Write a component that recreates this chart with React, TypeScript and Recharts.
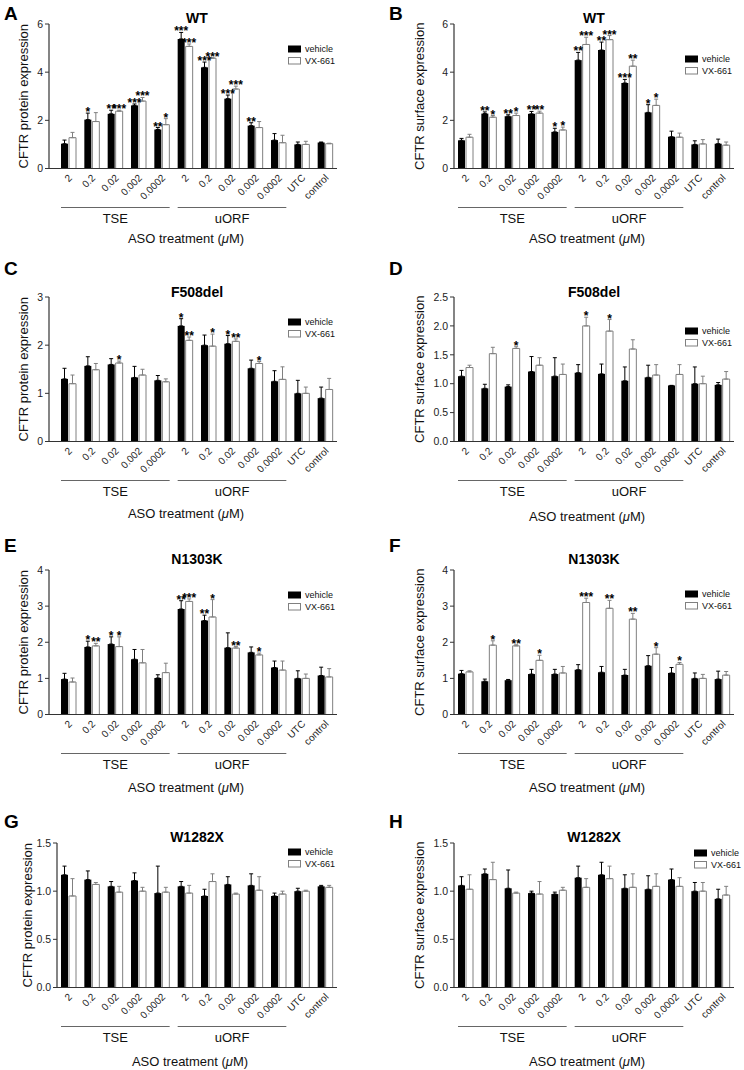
import React from 'react';
import { BarChart, Bar, XAxis, YAxis, ErrorBar, LabelList } from 'recharts';

const FONT = '"Liberation Sans", Arial, Helvetica, sans-serif';
const AXIS = '#333';
const GROUP_LINE = '#666';
const VX_STROKE = '#808080';

const DOSES = ['2', '0.2', '0.02', '0.002', '0.0002', '2', '0.2', '0.02', '0.002', '0.0002', 'UTC', 'control'];
const GROUPS = [
  { label: 'TSE', from: 0, to: 4 },
  { label: 'uORF', from: 5, to: 9 },
];
const NONE = ['', '', '', '', '', '', '', '', '', '', '', ''];

// A - WT protein
const A_VEH = [1.03, 2.03, 2.27, 2.62, 1.62, 5.38, 4.2, 2.9, 1.78, 1.18, 1.0, 1.08];
const A_VEH_ERR = [0.15, 0.27, 0.15, 0.06, 0.08, 0.27, 0.22, 0.15, 0.12, 0.27, 0.1, 0.02];
const A_VX = [1.28, 1.95, 2.38, 2.8, 1.82, 5.07, 4.58, 3.3, 1.7, 1.07, 1.0, 1.03];
const A_VX_ERR = [0.22, 0.37, 0.04, 0.15, 0.25, 0.1, 0.02, 0.12, 0.25, 0.31, 0.13, 0.02];
const A_VEH_SIG = ['', '*', '**', '***', '**', '***', '***', '***', '**', '', '', ''];
const A_VX_SIG = ['', '', '***', '***', '*', '***', '***', '***', '', '', '', ''];

// B - WT surface
const B_VEH = [1.17, 2.28, 2.17, 2.27, 1.52, 4.5, 4.92, 3.55, 2.33, 1.32, 1.0, 1.03];
const B_VEH_ERR = [0.08, 0.07, 0.06, 0.1, 0.15, 0.32, 0.33, 0.15, 0.32, 0.23, 0.15, 0.19];
const B_VX = [1.3, 2.13, 2.2, 2.3, 1.6, 5.15, 5.35, 4.25, 2.62, 1.3, 1.02, 0.97];
const B_VX_ERR = [0.12, 0.07, 0.1, 0.08, 0.12, 0.3, 0.17, 0.25, 0.26, 0.17, 0.18, 0.13];
const B_VEH_SIG = ['', '**', '**', '**', '*', '**', '**', '***', '*', '', '', ''];
const B_VX_SIG = ['', '*', '*', '**', '*', '***', '***', '**', '*', '', '', ''];

// C - F508del protein
const C_VEH = [1.3, 1.57, 1.6, 1.33, 1.27, 2.4, 2.0, 2.03, 1.52, 1.25, 1.0, 0.9];
const C_VEH_ERR = [0.22, 0.19, 0.12, 0.23, 0.1, 0.15, 0.21, 0.17, 0.17, 0.22, 0.27, 0.23];
const C_VX = [1.2, 1.49, 1.63, 1.38, 1.24, 2.1, 1.98, 2.08, 1.62, 1.29, 1.0, 1.08];
const C_VX_ERR = [0.18, 0.13, 0.04, 0.12, 0.06, 0.07, 0.25, 0.05, 0.04, 0.26, 0.13, 0.23];
const C_VEH_SIG = ['', '', '', '', '', '*', '', '*', '', '', '', ''];
const C_VX_SIG = ['', '', '*', '', '', '**', '*', '**', '*', '', '', ''];

// D - F508del surface
const D_VEH = [1.13, 0.92, 0.95, 1.21, 1.13, 1.19, 1.17, 1.05, 1.11, 0.97, 1.0, 0.98];
const D_VEH_ERR = [0.1, 0.07, 0.03, 0.26, 0.32, 0.14, 0.17, 0.24, 0.21, 0.0, 0.29, 0.04];
const D_VX = [1.28, 1.52, 1.61, 1.32, 1.16, 2.0, 1.91, 1.6, 1.15, 1.16, 1.0, 1.08];
const D_VX_ERR = [0.04, 0.11, 0.03, 0.13, 0.18, 0.15, 0.2, 0.16, 0.18, 0.17, 0.13, 0.13];
const D_VX_SIG = ['', '', '*', '', '', '*', '*', '', '', '', '', ''];

// E - N1303K protein
const E_VEH = [0.98, 1.87, 1.95, 1.53, 1.01, 2.92, 2.6, 1.85, 1.72, 1.3, 1.0, 1.08];
const E_VEH_ERR = [0.16, 0.16, 0.2, 0.27, 0.09, 0.23, 0.15, 0.41, 0.15, 0.18, 0.21, 0.23];
const E_VX = [0.9, 1.9, 1.88, 1.43, 1.16, 3.13, 2.7, 1.84, 1.65, 1.23, 1.0, 1.04];
const E_VX_ERR = [0.11, 0.07, 0.27, 0.37, 0.26, 0.07, 0.48, 0.04, 0.05, 0.25, 0.12, 0.23];
const E_VEH_SIG = ['', '*', '*', '', '', '**', '**', '', '', '', '', ''];
const E_VX_SIG = ['', '**', '*', '', '', '***', '*', '**', '*', '', '', ''];

// F - N1303K surface
const F_VEH = [1.13, 0.92, 0.95, 1.12, 1.12, 1.24, 1.17, 1.09, 1.35, 1.15, 1.0, 0.98];
const F_VEH_ERR = [0.09, 0.06, 0.02, 0.13, 0.13, 0.14, 0.16, 0.16, 0.28, 0.15, 0.15, 0.22];
const F_VX = [1.18, 1.92, 1.9, 1.5, 1.15, 3.1, 2.94, 2.64, 1.67, 1.39, 1.0, 1.09];
const F_VX_ERR = [0.03, 0.12, 0.03, 0.14, 0.18, 0.12, 0.22, 0.16, 0.18, 0.05, 0.11, 0.1];
const F_VX_SIG = ['', '*', '**', '*', '', '***', '**', '**', '*', '*', '', ''];

// G - W1282X protein
const G_VEH = [1.17, 1.12, 1.05, 1.11, 0.98, 1.05, 0.95, 1.07, 1.06, 0.95, 1.0, 1.05];
const G_VEH_ERR = [0.09, 0.09, 0.05, 0.08, 0.28, 0.05, 0.07, 0.08, 0.12, 0.03, 0.03, 0.01];
const G_VX = [0.95, 1.07, 0.99, 1.0, 0.99, 0.98, 1.1, 0.97, 1.01, 0.97, 1.0, 1.04];
const G_VX_ERR = [0.18, 0.02, 0.06, 0.04, 0.05, 0.08, 0.08, 0.01, 0.14, 0.03, 0.01, 0.02];

// H - W1282X surface
const H_VEH = [1.06, 1.18, 1.03, 0.98, 0.97, 1.14, 1.17, 1.03, 1.02, 1.12, 1.0, 0.92];
const H_VEH_ERR = [0.09, 0.05, 0.19, 0.02, 0.02, 0.12, 0.13, 0.14, 0.14, 0.11, 0.09, 0.1];
const H_VX = [1.02, 1.12, 0.98, 0.97, 1.01, 1.04, 1.13, 1.04, 1.05, 1.05, 1.0, 0.96];
const H_VX_ERR = [0.15, 0.18, 0.01, 0.13, 0.03, 0.09, 0.13, 0.14, 0.13, 0.09, 0.09, 0.09];

const TICKS_6 = [0, 2, 4, 6];
const TICKS_3 = [0, 1, 2, 3];
const TICKS_4 = [0, 1, 2, 3, 4];
const TICKS_25 = [0, 0.5, 1, 1.5, 2, 2.5];
const TICKS_15 = [0, 0.5, 1, 1.5];

const PROT = 'CFTR protein expression';
const SURF = 'CFTR surface expression';

const CH = 256;
const TOP = 24;
const PLOT_H = 144.5;

const int = (v: number) => String(v);
const dec = (v: number) => v.toFixed(1);

const PANELS = [
  { letter: 'A', title: 'WT', yLabel: PROT, veh: A_VEH, vehErr: A_VEH_ERR, vx: A_VX, vxErr: A_VX_ERR, vehSig: A_VEH_SIG, vxSig: A_VX_SIG, yMax: 6, ticks: TICKS_6, fmt: int,
    left: 0, top: 0, yw: 49, padL: 8, mr: 35, labelX: 23, titleY: 23, lx: 288, ly: 45.5, asoDy: 74, letterY: 20 },
  { letter: 'B', title: 'WT', yLabel: SURF, veh: B_VEH, vehErr: B_VEH_ERR, vx: B_VX, vxErr: B_VX_ERR, vehSig: B_VEH_SIG, vxSig: B_VX_SIG, yMax: 6, ticks: TICKS_6, fmt: int,
    left: 372, top: 0, yw: 82, padL: 0, mr: 10, labelX: 47, titleY: 23, lx: 313, ly: 55.5, asoDy: 74, letterY: 20 },
  { letter: 'C', title: 'F508del', yLabel: PROT, veh: C_VEH, vehErr: C_VEH_ERR, vx: C_VX, vxErr: C_VX_ERR, vehSig: C_VEH_SIG, vxSig: C_VX_SIG, yMax: 3, ticks: TICKS_3, fmt: int,
    left: 0, top: 273, yw: 49, padL: 8, mr: 35, labelX: 23, titleY: 24, lx: 288, ly: 45.5, asoDy: 76, letterY: 2 },
  { letter: 'D', title: 'F508del', yLabel: SURF, veh: D_VEH, vehErr: D_VEH_ERR, vx: D_VX, vxErr: D_VX_ERR, vehSig: NONE, vxSig: D_VX_SIG, yMax: 2.5, ticks: TICKS_25, fmt: dec,
    left: 372, top: 273, yw: 82, padL: 0, mr: 10, labelX: 47, titleY: 24, lx: 313, ly: 54.5, asoDy: 79, letterY: 2 },
  { letter: 'E', title: 'N1303K', yLabel: PROT, veh: E_VEH, vehErr: E_VEH_ERR, vx: E_VX, vxErr: E_VX_ERR, vehSig: E_VEH_SIG, vxSig: E_VX_SIG, yMax: 4, ticks: TICKS_4, fmt: int,
    left: 0, top: 546, yw: 49, padL: 8, mr: 35, labelX: 23, titleY: 18, lx: 288, ly: 45.5, asoDy: 77, letterY: 6 },
  { letter: 'F', title: 'N1303K', yLabel: SURF, veh: F_VEH, vehErr: F_VEH_ERR, vx: F_VX, vxErr: F_VX_ERR, vehSig: NONE, vxSig: F_VX_SIG, yMax: 4, ticks: TICKS_4, fmt: int,
    left: 372, top: 546, yw: 82, padL: 0, mr: 10, labelX: 47, titleY: 18, lx: 313, ly: 44.5, asoDy: 77, letterY: 6 },
  { letter: 'G', title: 'W1282X', yLabel: PROT, veh: G_VEH, vehErr: G_VEH_ERR, vx: G_VX, vxErr: G_VX_ERR, vehSig: NONE, vxSig: NONE, yMax: 1.5, ticks: TICKS_15, fmt: dec,
    left: 0, top: 819, yw: 57, padL: 0, mr: 35, labelX: 27, titleY: 23, lx: 288, ly: 29.5, asoDy: 78, letterY: 9 },
  { letter: 'H', title: 'W1282X', yLabel: SURF, veh: H_VEH, vehErr: H_VEH_ERR, vx: H_VX, vxErr: H_VX_ERR, vehSig: NONE, vxSig: NONE, yMax: 1.5, ticks: TICKS_15, fmt: dec,
    left: 372, top: 819, yw: 82, padL: 0, mr: 10, labelX: 47, titleY: 23, lx: 322, ly: 30.5, asoDy: 78, letterY: 9 },
];

const renderDoseTick = (props: any) => {
  const { x, y, payload } = props;
  const idx = payload?.index ?? props.index;
  const half = payload?.offset || 11.67;
  const g = GROUPS.find((gr) => (gr.from + gr.to) / 2 === idx);
  const span = g ? (g.to - g.from + 1) * half - 4 : 0;
  const tx = x + 4;
  const ty = y + 10;
  return (
    <g key={`t${idx}`}>
      <text x={tx} y={ty} textAnchor="end" fontSize={10} fontFamily={FONT} fill="#222" transform={`rotate(-45, ${tx}, ${ty})`}>
        {DOSES[idx]}
      </text>
      {g && (
        <>
          <line x1={x - span} x2={x + span} y1={y + 39} y2={y + 39} stroke={GROUP_LINE} strokeWidth={1} />
          <text x={x} y={y + 54} textAnchor="middle" fontSize={13} fontFamily={FONT} fill="#111">
            {g.label}
          </text>
        </>
      )}
    </g>
  );
};

const asoLabel = (dy: number) => (props: any) => {
  const vb = props.viewBox;
  return (
    <text x={vb.x + vb.width / 2 - 7} y={vb.y + dy} textAnchor="middle" fontSize={13} fontFamily={FONT} fill="#111">
      ASO treatment (<tspan fontStyle="italic">μ</tspan>M)
    </text>
  );
};

const yLabel = (text: string, lx: number) => (props: any) => {
  const vb = props.viewBox;
  const cy = vb.y + vb.height / 2;
  return (
    <g transform={`translate(${lx}, ${cy}) rotate(-90)`}>
      <text x={0} y={0} textAnchor="middle" dominantBaseline="central" fontSize={13} fontFamily={FONT} fill="#111">
        {text}
      </text>
    </g>
  );
};

const starLabel = (rows: any[], key: string, errKey: string) => (props: any) => {
  const { index, value } = props;
  if (!value) return null;
  const vb = props.viewBox ?? props;
  const x = vb.x ?? props.x;
  const y = vb.y ?? props.y;
  const width = vb.width ?? props.width;
  const height = vb.height ?? props.height;
  const r = rows[index];
  const k = height / r[key];
  const top = y - r[errKey][1] * k;
  return (
    <text x={x + width / 2} y={top + 3} textAnchor="middle" fontSize={12} fontWeight="bold" fontFamily={FONT} fill="#000">
      {value}
    </text>
  );
};

function Panel({ p }: { p: any }) {
  const rows = DOSES.map((dose, i) => ({
    key: `c${i}`,
    dose,
    veh: p.veh[i],
    vx: p.vx[i],
    vehErr: [0, p.vehErr[i]],
    vxErr: [0, p.vxErr[i]],
    vehSig: p.vehSig[i],
    vxSig: p.vxSig[i],
  }));
  const plotL = p.yw + p.padL;
  const plotR = 372 - p.mr;
  return (
    <div style={{ position: 'absolute', left: p.left, top: p.top, width: 372, height: CH }}>
      <BarChart
        width={372}
        height={CH}
        data={rows}
        margin={{ top: TOP, right: p.mr, bottom: 0, left: 0 }}
        barGap={1}
        barSize={7}
      >
        <XAxis
          dataKey="key"
          interval={0}
          tick={renderDoseTick}
          tickLine={false}
          tickSize={0}
          tickMargin={0}
          height={CH - TOP - PLOT_H}
          axisLine={{ stroke: AXIS, strokeWidth: 1.2 }}
          padding={{ left: p.padL, right: 0 }}
          label={asoLabel(p.asoDy)}
        />
        <YAxis
          width={p.yw}
          domain={[0, p.yMax]}
          ticks={p.ticks}
          tickFormatter={p.fmt}
          tickSize={4}
          tickMargin={2}
          tick={{ fontSize: 10.5, fill: '#222', fontFamily: FONT }}
          axisLine={{ stroke: AXIS, strokeWidth: 1.2 }}
          tickLine={{ stroke: AXIS }}
          label={yLabel(p.yLabel, p.labelX)}
        />
        <Bar dataKey="veh" fill="#000" isAnimationActive={false}>
          <ErrorBar dataKey="vehErr" width={2} stroke="#000" strokeWidth={1} isAnimationActive={false} />
          <LabelList dataKey="vehSig" content={starLabel(rows, 'veh', 'vehErr')} />
        </Bar>
        <Bar dataKey="vx" fill="#fff" stroke={VX_STROKE} strokeWidth={1} isAnimationActive={false}>
          <ErrorBar dataKey="vxErr" width={2} stroke={VX_STROKE} strokeWidth={1} isAnimationActive={false} />
          <LabelList dataKey="vxSig" content={starLabel(rows, 'vx', 'vxErr')} />
        </Bar>
      </BarChart>
      <svg width={372} height={CH} style={{ position: 'absolute', left: 0, top: 0, pointerEvents: 'none', overflow: 'visible' }}>
        <text x={p.left === 0 ? 4 : 17} y={p.letterY} fontSize={19} fontWeight="bold" fontFamily={FONT} fill="#000">
          {p.letter}
        </text>
        <text x={(plotL + plotR) / 2} y={p.titleY} textAnchor="middle" fontSize={14} fontWeight="bold" fontFamily={FONT} fill="#000">
          {p.title}
        </text>
        <rect x={p.lx} y={p.ly} width={13} height={7} fill="#000" />
        <text x={p.lx + 17} y={p.ly + 6.5} fontSize={9} fontFamily={FONT} fill="#111">vehicle</text>
        <rect x={p.lx + 0.5} y={p.ly + 12} width={12} height={6.5} fill="#fff" stroke={VX_STROKE} strokeWidth={1} />
        <text x={p.lx + 17} y={p.ly + 18} fontSize={9} fontFamily={FONT} fill="#111">VX-661</text>
      </svg>
    </div>
  );
}

export default function App() {
  return (
    <div style={{ position: 'absolute', left: 0, top: 0, width: 744, height: 1070, overflow: 'hidden', background: '#fff', fontFamily: FONT }}>
      {PANELS.map((p) => (
        <Panel key={p.letter} p={p} />
      ))}
    </div>
  );
}
